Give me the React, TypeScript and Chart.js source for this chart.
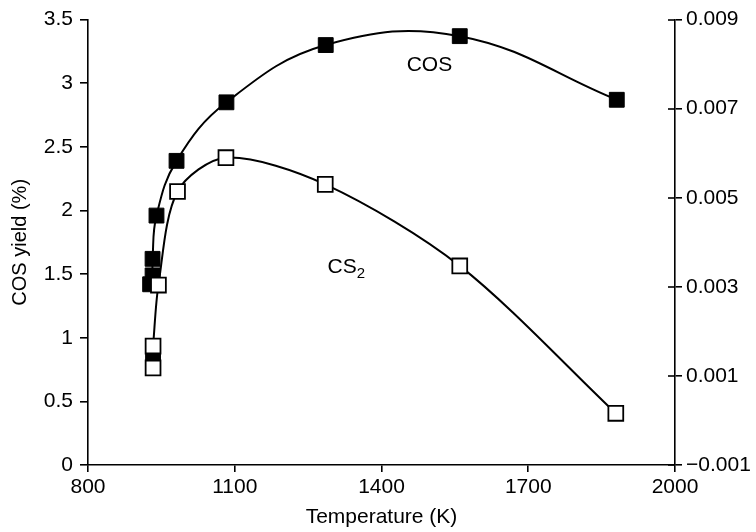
import React, { useEffect, useRef } from 'react';
import { Chart, registerables } from 'chart.js';

Chart.register(...registerables);

const FONT = "'Liberation Sans', Arial, Helvetica, sans-serif";
const FONT_SIZE = 21;

// COS yield (%) vs temperature (K) — filled squares, left axis
const cosTemperature = [927, 933, 932, 932, 940, 981, 1083, 1286, 1560, 1881];
const cosYield = [1.42, 0.85, 1.49, 1.62, 1.96, 2.39, 2.85, 3.3, 3.37, 2.87];
const cosCurveStart = 2;

// CS2 yield vs temperature (K) — open squares, right axis
const cs2Temperature = [933, 933, 944, 983, 1082, 1285, 1560, 1879];
const cs2Yield = [0.00118, 0.00167, 0.00304, 0.00514, 0.0059, 0.0053, 0.00347, 0.00016];
const cs2CurveStart = 1;

const xTicks = [800, 1100, 1400, 1700, 2000];
const leftTicks = [0, 0.5, 1, 1.5, 2, 2.5, 3, 3.5];
const rightTicks = [-0.001, 0.001, 0.003, 0.005, 0.007, 0.009];

const seriesLabels = [
  { text: 'COS', sub: '', temperature: 1498, value: 3.15 },
  { text: 'CS', sub: '2', temperature: 1328, value: 1.56 },
];

const toPoints = (xs: number[], ys: number[], from = 0) =>
  xs.slice(from).map((x, i) => ({ x, y: ys[from + i] }));

const overlayPlugin = {
  id: 'overlay',
  afterDraw(chart: any) {
    const { ctx, scales } = chart;
    const x = scales.x;
    const y = scales.y;
    const y1 = scales.y1;
    ctx.save();
    ctx.strokeStyle = '#000';
    ctx.lineWidth = 1.6;
    const ax = y1.left;
    rightTicks.forEach((v) => {
      const py = Math.round(y1.getPixelForValue(v));
      ctx.beginPath();
      ctx.moveTo(ax - 7, py);
      ctx.lineTo(ax, py);
      ctx.stroke();
    });
    ctx.fillStyle = '#000';
    ctx.textBaseline = 'middle';
    ctx.textAlign = 'left';
    seriesLabels.forEach((l) => {
      const cx = x.getPixelForValue(l.temperature);
      const cy = y.getPixelForValue(l.value) + 1;
      ctx.font = `${FONT_SIZE}px ${FONT}`;
      const w1 = ctx.measureText(l.text).width;
      ctx.font = `${FONT_SIZE - 6}px ${FONT}`;
      const w2 = l.sub ? ctx.measureText(l.sub).width : 0;
      const start = cx - (w1 + w2) / 2;
      ctx.font = `${FONT_SIZE}px ${FONT}`;
      ctx.fillText(l.text, start, cy);
      if (l.sub) {
        ctx.font = `${FONT_SIZE - 6}px ${FONT}`;
        ctx.fillText(l.sub, start + w1, cy + 6);
      }
    });
    ctx.restore();
  },
};

export default function App() {
  const ref = useRef<HTMLCanvasElement | null>(null);

  useEffect(() => {
    document.body.style.margin = '0';
    const canvas = ref.current;
    if (!canvas) return;
    const tickFont = { family: FONT, size: FONT_SIZE };
    const chart = new Chart(canvas, {
      type: 'scatter',
      data: {
        datasets: [
          {
            label: 'CS2 markers',
            data: toPoints(cs2Temperature, cs2Yield),
            yAxisID: 'y1',
            showLine: false,
            pointStyle: 'rect',
            pointRadius: 10.5,
            pointBackgroundColor: '#fff',
            pointBorderColor: '#000',
            pointBorderWidth: 1.8,
            order: 0,
          },
          {
            label: 'COS markers',
            data: toPoints(cosTemperature, cosYield),
            yAxisID: 'y',
            showLine: false,
            pointStyle: 'rect',
            pointRadius: 10.5,
            pointBackgroundColor: '#000',
            pointBorderColor: '#000',
            pointBorderWidth: 1,
            order: 1,
          },
          {
            label: 'COS',
            data: toPoints(cosTemperature, cosYield, cosCurveStart),
            yAxisID: 'y',
            showLine: true,
            tension: 0.4,
            pointRadius: 0,
            borderColor: '#000',
            borderWidth: 2,
            fill: false,
            order: 2,
          },
          {
            label: 'CS2',
            data: toPoints(cs2Temperature, cs2Yield, cs2CurveStart),
            yAxisID: 'y1',
            showLine: true,
            tension: 0.3,
            pointRadius: 0,
            borderColor: '#000',
            borderWidth: 2,
            fill: false,
            order: 3,
          },
        ],
      },
      options: {
        animation: false,
        responsive: false,
        events: [],
        layout: { padding: { top: 18, left: 0, right: 0, bottom: 0 } },
        plugins: { legend: { display: false }, tooltip: { enabled: false } },
        scales: {
          x: {
            type: 'linear',
            position: 'bottom',
            min: 800,
            max: 2000,
            afterBuildTicks: (s: any) => {
              s.ticks = xTicks.map((v) => ({ value: v }));
            },
            afterFit: (s: any) => {
              s.height = 67;
            },
            grid: { drawOnChartArea: false, drawTicks: true, tickLength: 7, color: '#000', lineWidth: 1.6 },
            border: { display: true, color: '#000', width: 1.6 },
            ticks: {
              color: '#000',
              font: tickFont,
              padding: 3,
              maxRotation: 0,
              autoSkip: false,
              callback: (v: any) => String(v),
            },
            title: {
              display: true,
              text: 'Temperature (K)',
              color: '#000',
              font: tickFont,
              padding: { top: 0, bottom: 2 },
            },
          },
          y: {
            type: 'linear',
            position: 'left',
            min: 0,
            max: 3.5,
            afterBuildTicks: (s: any) => {
              s.ticks = leftTicks.map((v) => ({ value: v }));
            },
            afterFit: (s: any) => {
              s.width = 88;
            },
            grid: { drawOnChartArea: false, drawTicks: true, tickLength: 8, color: '#000', lineWidth: 1.6 },
            border: { display: true, color: '#000', width: 1.6 },
            ticks: {
              color: '#000',
              font: tickFont,
              padding: 7,
              autoSkip: false,
              callback: (v: any) => String(v),
            },
            title: {
              display: true,
              text: 'COS yield (%)',
              color: '#000',
              font: { family: FONT, size: 20 },
              padding: { top: 8, bottom: 0 },
            },
          },
          y1: {
            type: 'linear',
            position: 'right',
            min: -0.001,
            max: 0.009,
            afterBuildTicks: (s: any) => {
              s.ticks = rightTicks.map((v) => ({ value: v }));
            },
            afterFit: (s: any) => {
              s.width = 81;
            },
            grid: { drawOnChartArea: false, drawTicks: true, tickLength: 7, color: '#000', lineWidth: 1.6 },
            border: { display: true, color: '#000', width: 1.6 },
            ticks: {
              color: '#000',
              font: tickFont,
              padding: 4,
              autoSkip: false,
              callback: (v: any) => (v < 0 ? '\u2212' + Math.abs(v).toFixed(3) : Number(v).toFixed(3)),
            },
          },
        },
      },
      plugins: [overlayPlugin],
    } as any);
    return () => chart.destroy();
  }, []);

  return (
    <div style={{ width: 756, height: 532 }}>
      <canvas ref={ref} width={756} height={532} style={{ display: 'block', width: 756, height: 532 }} />
    </div>
  );
}
